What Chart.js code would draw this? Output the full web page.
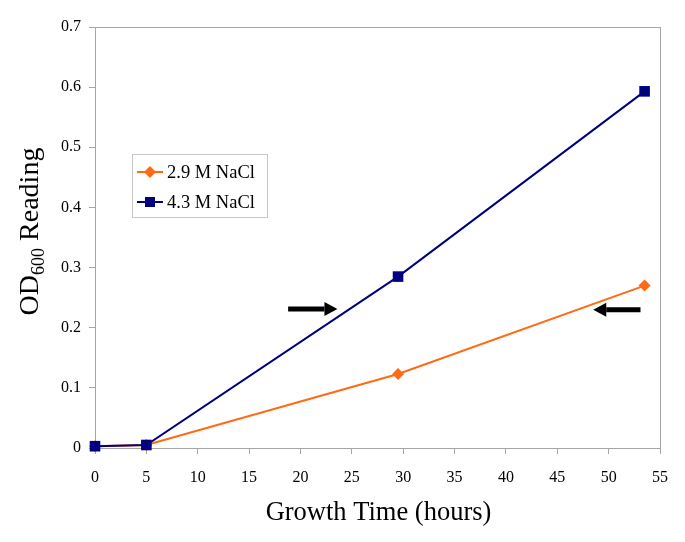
<!DOCTYPE html>
<html>
<head>
<meta charset="utf-8">
<script src="https://cdn.jsdelivr.net/npm/chart.js@4/dist/chart.umd.min.js"></script>
<style>
  html, body { margin: 0; padding: 0; background: #fff; }
</style>
</head>
<body>
<canvas id="odChart" width="685" height="542"></canvas>
<script>
// growth time (hours) and OD600 readings
const hours = [0, 5, 29.5, 53.5];
const od29 = [0.003, 0.005, 0.123, 0.270];   // 2.9 M NaCl
const od43 = [0.003, 0.005, 0.285, 0.593];   // 4.3 M NaCl
const xTicks = [0, 5, 10, 15, 20, 25, 30, 35, 40, 45, 50, 55];
const yTicks = [0, 0.1, 0.2, 0.3, 0.4, 0.5, 0.6, 0.7];
// black arrows pointing at the lines (data units)
const arrows = [
  { x0: 18.8, x1: 23.6, y: 0.231 },
  { x0: 53.1, x1: 48.5, y: 0.230 }
];

const SERIF = '"Liberation Serif", "Times New Roman", serif';
const ORANGE = '#ff6a13';
const NAVY = '#000080';
const AXIS = '#a6a6a6';

const pts = (xs, ys) => xs.map((x, i) => ({ x: x, y: ys[i] }));

// frame, titles, arrows and the boxed legend
const decor = {
  id: 'decor',
  beforeDatasetsDraw(chart) {
    const ctx = chart.ctx, a = chart.chartArea;
    // plot frame (under the markers)
    ctx.save();
    ctx.strokeStyle = AXIS;
    ctx.lineWidth = 1;
    ctx.strokeRect(Math.round(a.left) + 0.5, Math.round(a.top) + 0.5,
                   Math.round(a.right - a.left), Math.round(a.bottom - a.top));
    ctx.restore();
  },
  afterDatasetsDraw(chart) {
    const ctx = chart.ctx, a = chart.chartArea;
    const xs = chart.scales.x, ys = chart.scales.y;
    ctx.save();

    // arrows
    ctx.fillStyle = '#000';
    ctx.strokeStyle = '#000';
    arrows.forEach(ar => {
      const px0 = xs.getPixelForValue(ar.x0);
      const px1 = xs.getPixelForValue(ar.x1);
      const py = ys.getPixelForValue(ar.y);
      const dir = Math.sign(px1 - px0);
      const headLen = 13;
      ctx.lineWidth = 5;
      ctx.beginPath();
      ctx.moveTo(px0, py);
      ctx.lineTo(px1 - dir * headLen, py);
      ctx.stroke();
      ctx.beginPath();
      ctx.moveTo(px1, py);
      ctx.lineTo(px1 - dir * headLen, py - 7);
      ctx.lineTo(px1 - dir * headLen, py + 7);
      ctx.closePath();
      ctx.fill();
    });

    // x title
    ctx.fillStyle = '#000';
    ctx.textAlign = 'center';
    ctx.textBaseline = 'middle';
    ctx.font = '26.5px ' + SERIF;
    ctx.fillText('Growth Time (hours)', (a.left + a.right) / 2 + 1, 513);

    // y title with subscript
    ctx.save();
    ctx.translate(30, (a.top + a.bottom) / 2 - 6);
    ctx.rotate(-Math.PI / 2);
    ctx.textAlign = 'left';
    ctx.textBaseline = 'alphabetic';
    const bigF = '28px ' + SERIF, subF = '18px ' + SERIF;
    ctx.font = bigF; const w1 = ctx.measureText('OD').width;
    ctx.font = subF; const w2 = ctx.measureText('600').width;
    ctx.font = bigF; const w3 = ctx.measureText(' Reading').width;
    let sx = -(w1 + w2 + w3) / 2;
    ctx.font = bigF; ctx.fillText('OD', sx, 8); sx += w1;
    ctx.font = subF; ctx.fillText('600', sx, 14); sx += w2;
    ctx.font = bigF; ctx.fillText(' Reading', sx, 8);
    ctx.restore();

    // legend box
    const lx = 132, ly = 154, lw = 135, lh = 63;
    ctx.fillStyle = '#fff';
    ctx.fillRect(lx, ly, lw, lh);
    ctx.strokeStyle = '#c8c8c8';
    ctx.lineWidth = 1;
    ctx.strokeRect(lx + 0.5, ly + 0.5, lw, lh);
    ctx.font = '18.5px ' + SERIF;
    ctx.textAlign = 'left';
    ctx.textBaseline = 'middle';
    chart.data.datasets.forEach((ds, i) => {
      const ry = 172 + i * 30;
      ctx.strokeStyle = ds.borderColor;
      ctx.lineWidth = 2;
      ctx.beginPath();
      ctx.moveTo(137, ry);
      ctx.lineTo(163, ry);
      ctx.stroke();
      ctx.fillStyle = ds.pointBackgroundColor;
      ctx.beginPath();
      if (ds.pointStyle === 'rect') {
        ctx.rect(150 - 5, ry - 5, 10, 10);
      } else {
        ctx.moveTo(150, ry - 6); ctx.lineTo(156, ry); ctx.lineTo(150, ry + 6); ctx.lineTo(144, ry);
      }
      ctx.fill();
      ctx.fillStyle = '#000';
      ctx.fillText(ds.label, 167, ry + 1);
    });
    ctx.restore();
  }
};

new Chart(document.getElementById('odChart'), {
  type: 'scatter',
  data: {
    datasets: [
      {
        label: '2.9 M NaCl',
        data: pts(hours, od29),
        showLine: true,
        order: 1,
        clip: false,
        borderColor: ORANGE,
        backgroundColor: ORANGE,
        pointBackgroundColor: ORANGE,
        pointBorderColor: ORANGE,
        borderWidth: 2,
        pointStyle: 'rectRot',
        pointRadius: 6,
        pointBorderWidth: 0
      },
      {
        label: '4.3 M NaCl',
        data: pts(hours, od43),
        showLine: true,
        order: 0,
        clip: false,
        borderColor: NAVY,
        backgroundColor: NAVY,
        pointBackgroundColor: NAVY,
        pointBorderColor: NAVY,
        borderWidth: 2,
        pointStyle: 'rect',
        pointRadius: 7.5,
        pointBorderWidth: 0
      }
    ]
  },
  options: {
    responsive: false,
    animation: false,
    devicePixelRatio: 1,
    layout: { padding: { left: 0, top: 27, right: 25, bottom: 0 } },
    plugins: { legend: { display: false }, tooltip: { enabled: false } },
    scales: {
      x: {
        type: 'linear',
        min: 0, max: 55,
        afterFit: s => { s.height = 94; },
        afterBuildTicks: s => { s.ticks = xTicks.map(v => ({ value: v })); },
        grid: { drawOnChartArea: false, drawTicks: true, tickLength: 6, color: AXIS },
        border: { color: AXIS },
        ticks: { color: '#000', font: { family: SERIF, size: 16 }, padding: 14, maxRotation: 0 }
      },
      y: {
        min: 0, max: 0.7,
        afterFit: s => { s.width = 95; },
        afterBuildTicks: s => { s.ticks = yTicks.map(v => ({ value: v })); },
        grid: { drawOnChartArea: false, drawTicks: true, tickLength: 6, color: AXIS },
        border: { color: AXIS },
        ticks: {
          color: '#000', font: { family: SERIF, size: 16 }, padding: 8,
          callback: v => v === 0 ? '0' : v.toFixed(1)
        }
      }
    }
  },
  plugins: [decor]
});
</script>
</body>
</html>
